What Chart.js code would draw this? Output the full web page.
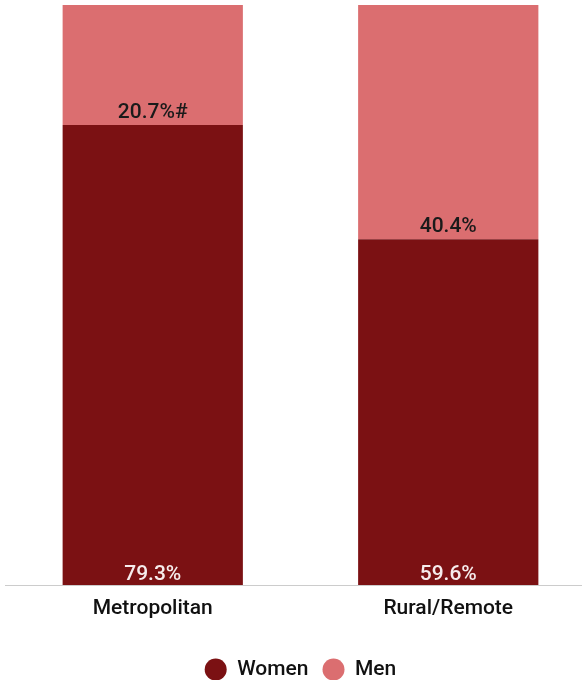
<!DOCTYPE html>
<html lang="en">
<head>
  <meta charset="UTF-8">
  <title>Women and Men by Region</title>
  <script src="https://cdn.jsdelivr.net/npm/chart.js"></script>
  <style>
    html, body { margin: 0; padding: 0; overflow: hidden; background: #fff; }
  </style>
</head>
<body>
  <canvas id="regionChart" width="596" height="690"></canvas>
  <script>
    const regions = ['Metropolitan', 'Rural/Remote'];
    const women = [79.3, 59.6];
    const men = [20.7, 40.4];
    const menNotes = ['#', ''];

    const FONT = 'Roboto, sans-serif';
    const DARK = '#7b1113';
    const LIGHT = '#db6e70';

    // writes the percentage inside each bar segment
    const segmentLabels = {
      id: 'segmentLabels',
      afterDatasetsDraw(chart) {
        const ctx = chart.ctx;
        ctx.save();
        ctx.font = '500 21px ' + FONT;
        ctx.textAlign = 'center';
        ctx.textBaseline = 'alphabetic';
        chart.data.datasets.forEach((ds, di) => {
          const meta = chart.getDatasetMeta(di);
          meta.data.forEach((bar, i) => {
            let text = ds.data[i].toFixed(1) + '%';
            if (di === 1) text += menNotes[i];
            ctx.fillStyle = di === 0 ? '#f6ecec' : '#1a1a1a';
            ctx.fillText(text, bar.x, bar.base - (di === 0 ? 5 : 7));
          });
        });
        ctx.restore();
      }
    };

    const ctx = document.getElementById('regionChart').getContext('2d');
    new Chart(ctx, {
      type: 'bar',
      data: {
        labels: regions,
        datasets: [
          { label: 'Women', data: women, backgroundColor: DARK },
          { label: 'Men', data: men, backgroundColor: LIGHT }
        ]
      },
      options: {
        responsive: false,
        animation: false,
        layout: { padding: { left: 5, top: 5, right: 0, bottom: 0 } },
        datasets: { bar: { categoryPercentage: 1, barPercentage: 0.61 } },
        scales: {
          x: {
            stacked: true,
            grid: { display: false },
            border: { display: true, color: '#cccccc', width: 1 },
            ticks: { color: '#111', font: { family: FONT, size: 21, weight: '500' }, padding: 3 },
            afterFit(scale) { scale.height = 60; }
          },
          y: {
            stacked: true,
            display: false,
            min: 0,
            max: 100
          }
        },
        plugins: {
          tooltip: { enabled: false },
          legend: {
            position: 'bottom',
            labels: {
              usePointStyle: true,
              pointStyle: 'circle',
              pointStyleWidth: 22,
              boxHeight: 15.6,
              color: '#111',
              padding: 14,
              font: { family: FONT, size: 21, weight: '500' }
            }
          }
        }
      },
      plugins: [segmentLabels]
    });
  </script>
</body>
</html>
